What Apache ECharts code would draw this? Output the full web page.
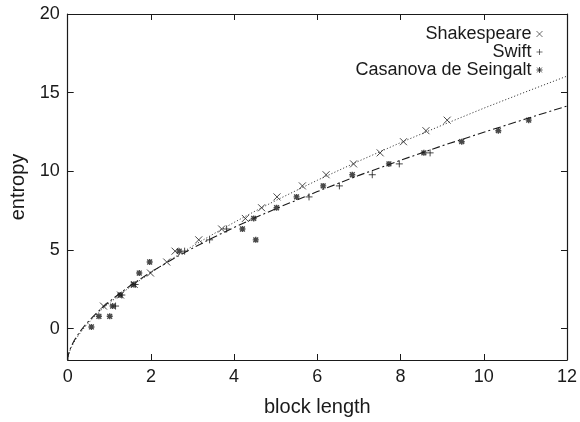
<!DOCTYPE html>
<html>
<head>
<meta charset="utf-8">
<script src="https://cdn.jsdelivr.net/npm/echarts@6/dist/echarts.min.js"></script>
<style>
  html, body { margin: 0; padding: 0; background: #fff; }
  #chart { width: 580px; height: 422px; }
</style>
</head>
<body>
<div id="chart"></div>
<script>
// Measured entropy per block length for three authors
const shakespeareX = [0.86, 1.27, 1.60, 1.99, 2.38, 2.58, 3.15, 3.70, 4.27, 4.66, 5.03, 5.64, 6.21, 6.87, 7.51, 8.07, 8.61, 9.12];
const shakespeareY = [1.43, 2.13, 2.80, 3.53, 4.23, 4.92, 5.64, 6.33, 7.00, 7.68, 8.37, 9.07, 9.78, 10.47, 11.17, 11.88, 12.58, 13.25];

const swiftX = [1.15, 1.30, 1.62, 2.81, 3.41, 3.82, 5.80, 6.53, 7.32, 7.97, 8.71];
const swiftY = [1.43, 2.13, 2.80, 4.92, 5.64, 6.33, 8.37, 9.07, 9.78, 10.47, 11.17];

const casanovaX = [0.57, 0.75, 1.01, 1.08, 1.26, 1.58, 1.72, 1.97, 2.68, 4.20, 4.47, 4.52, 5.02, 5.50, 6.14, 6.84, 7.72, 8.56, 9.47, 10.35, 11.08];
const casanovaY = [0.10, 0.78, 0.78, 1.43, 2.13, 2.80, 3.53, 4.23, 4.92, 6.33, 7.00, 5.64, 7.68, 8.37, 9.07, 9.78, 10.47, 11.17, 11.88, 12.58, 13.25];

// Fitted curves, sampled densely near the origin where they rise steeply
const fitX       = [0, 0.005, 0.01, 0.02, 0.04, 0.07, 0.1, 0.15, 0.2, 0.3, 0.4, 0.5, 0.65, 0.8, 1, 1.25, 1.5, 2, 2.5, 3, 3.5, 4, 4.5, 5, 6, 7, 8, 9, 10, 11, 12];
const fitShakesY = [-2, -1.86, -1.79, -1.67, -1.50, -1.30, -1.12, -0.88, -0.66, -0.28, 0.06, 0.36, 0.78, 1.17, 1.62, 2.15, 2.64, 3.55, 4.42, 5.24, 6.01, 6.75, 7.46, 8.14, 9.43, 10.65, 11.82, 12.93, 14.01, 15.04, 16.05];
const fitOthersY = [-2, -1.84, -1.76, -1.63, -1.45, -1.23, -1.05, -0.79, -0.57, -0.18, 0.16, 0.46, 0.87, 1.25, 1.71, 2.23, 2.72, 3.59, 4.38, 5.11, 5.79, 6.43, 7.04, 7.62, 8.71, 9.74, 10.70, 11.62, 12.48, 13.32, 14.15];

// Axis ticks
const xTicks = [0, 2, 4, 6, 8, 10, 12];
const yTicks = [0, 5, 10, 15, 20];

const zip = (xs, ys) => xs.map((x, i) => [x, ys[i]]);

const CROSS = 'path://M0,0L10,10M0,10L10,0';
const PLUS = 'path://M5,0L5,10M0,5L10,5';
const STAR = 'path://M5,0L5,10M0,5L10,5M1,1L9,9M1,9L9,1';

const ink = '#1a1a1a';
const FONT = '"Liberation Sans", Arial, Helvetica, sans-serif';

const markerStyle = (w) => ({ color: 'rgba(0,0,0,0)', borderColor: ink, borderWidth: w });

const chart = echarts.init(document.getElementById('chart'), null, { renderer: 'canvas' });

const tickStyle = { show: true, inside: true, length: 6, lineStyle: { color: ink, width: 1 } };
const lineStyleAxis = { show: true, onZero: false, lineStyle: { color: ink, width: 1.2 } };

chart.setOption({
  animation: false,
  backgroundColor: '#fff',
  textStyle: { fontFamily: FONT },
  grid: { left: 67.7, right: 12.3, top: 14, bottom: 60.3, containLabel: false },
  legend: {
    orient: 'vertical',
    right: 32,
    top: 20,
    align: 'right',
    itemWidth: 6,
    itemHeight: 6,
    itemGap: 0,
    textStyle: { fontFamily: FONT, fontSize: 18, color: ink, lineHeight: 18 },
    data: [
      { name: 'Shakespeare', itemStyle: markerStyle(0.8) },
      { name: 'Swift', itemStyle: markerStyle(0.8) },
      { name: 'Casanova de Seingalt', itemStyle: markerStyle(1) }
    ]
  },
  xAxis: [
    {
      type: 'value', min: 0, max: 12, interval: 2,
      name: 'block length', nameLocation: 'middle', nameGap: 37,
      nameTextStyle: { fontFamily: FONT, fontSize: 20, color: ink },
      axisLine: lineStyleAxis,
      axisTick: tickStyle,
      axisLabel: { fontFamily: FONT, fontSize: 18, color: ink, margin: 8,
                   customValues: xTicks, showMinLabel: true, showMaxLabel: true },
      splitLine: { show: false }
    },
    {
      type: 'value', min: 0, max: 12, interval: 2, position: 'top',
      axisLine: lineStyleAxis,
      axisTick: tickStyle,
      axisLabel: { show: false },
      splitLine: { show: false }
    }
  ],
  yAxis: [
    {
      type: 'value', min: -2, max: 20,
      name: 'entropy', nameLocation: 'middle', nameGap: 38,
      nameTextStyle: { fontFamily: FONT, fontSize: 20, color: ink },
      axisLine: lineStyleAxis,
      axisTick: Object.assign({}, tickStyle, { customValues: yTicks }),
      axisLabel: { fontFamily: FONT, fontSize: 18, color: ink, margin: 8, customValues: yTicks },
      splitLine: { show: false }
    },
    {
      type: 'value', min: -2, max: 20, position: 'right',
      axisLine: lineStyleAxis,
      axisTick: Object.assign({}, tickStyle, { customValues: yTicks }),
      axisLabel: { show: false },
      splitLine: { show: false }
    }
  ],
  series: [
    {
      name: 'Shakespeare fit', type: 'line', data: zip(fitX, fitShakesY),
      smooth: false, showSymbol: false, silent: true,
      lineStyle: { color: '#444', width: 1, type: [1.2, 2] }
    },
    {
      name: 'Swift fit', type: 'line', data: zip(fitX, fitOthersY),
      smooth: false, showSymbol: false, silent: true,
      lineStyle: { color: ink, width: 1.1, type: [8, 3, 2, 3] }
    },
    {
      name: 'Shakespeare', type: 'scatter', data: zip(shakespeareX, shakespeareY),
      symbol: CROSS, symbolSize: 7, itemStyle: markerStyle(1)
    },
    {
      name: 'Swift', type: 'scatter', data: zip(swiftX, swiftY),
      symbol: PLUS, symbolSize: 7, itemStyle: markerStyle(1)
    },
    {
      name: 'Casanova de Seingalt', type: 'scatter', data: zip(casanovaX, casanovaY),
      symbol: STAR, symbolSize: 6, itemStyle: markerStyle(1.4)
    }
  ]
});
</script>
</body>
</html>
